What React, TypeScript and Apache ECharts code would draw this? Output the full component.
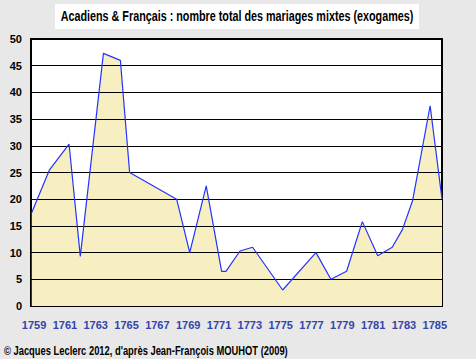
import React, { useEffect, useRef } from "react";
import * as echarts from "echarts";

const titleText = "Acadiens & Français : nombre total des mariages mixtes (exogames)";
const footerText = "© Jacques Leclerc 2012, d'après Jean-François MOUHOT (2009)";

const years = [
  1758.85, 1760.0, 1761.27, 1762.0, 1763.5, 1764.6, 1765.2, 1768.25, 1769.1, 1770.17,
  1771.17, 1771.45, 1772.36, 1773.18, 1775.13, 1777.29, 1778.26, 1779.28, 1780.3,
  1781.3, 1782.24, 1782.9, 1783.56, 1784.7, 1785.47,
];
const values = [
  17.5, 25.5, 30.3, 9.3, 47.3, 46, 25, 20, 10, 22.5,
  6.5, 6.5, 10.3, 11, 3, 10, 5, 6.5, 15.8,
  9.4, 11, 14.3, 19.7, 37.5, 20,
];
const xTickLabels = [1759, 1761, 1763, 1765, 1767, 1769, 1771, 1773, 1775, 1777, 1779, 1781, 1783, 1785];

const FONT = "'Liberation Sans', Arial, sans-serif";

function measure(text: string, font: string): number {
  const c = document.createElement("canvas").getContext("2d");
  if (!c) return 1;
  c.font = font;
  return c.measureText(text).width || 1;
}

export default function App() {
  const ref = useRef<HTMLDivElement>(null);
  useEffect(() => {
    if (!ref.current) return;
    const chart = echarts.init(ref.current, undefined, { renderer: "svg" });
    const titleFont = `bold 14px ${FONT}`;
    const footFont = `bold 12px ${FONT}`;
    const titleScale = 353 / measure(titleText, titleFont);
    const footScale = 284 / measure(footerText, footFont);
    const pairs = years.map((y, i) => [y, values[i]]);
    chart.setOption({
      animation: false,
      backgroundColor: "#e8e8e8",
      grid: {
        left: 31,
        top: 39,
        width: 411,
        height: 267,
        show: true,
        backgroundColor: "#ffffff",
        borderColor: "#000000",
        borderWidth: 2,
      },
      xAxis: {
        type: "value",
        min: 1758.8,
        max: 1785.47,
        axisLine: { show: false },
        axisTick: { show: false },
        splitLine: { show: false },
        axisLabel: {
          customValues: xTickLabels,
          color: "#3344aa",
          fontFamily: FONT,
          fontWeight: "bold",
          fontSize: 11,
          margin: 13,
          formatter: (v: number) => String(Math.round(v)),
        },
      },
      yAxis: {
        type: "value",
        min: 0,
        max: 50,
        interval: 5,
        z: 2,
        axisLine: { show: false },
        axisTick: { show: false },
        splitLine: { show: true, lineStyle: { color: "#000000", width: 1 } },
        axisLabel: {
          color: "#000000",
          fontFamily: FONT,
          fontWeight: "bold",
          fontSize: 11,
          margin: 9,
        },
      },
      graphic: [
        { type: "rect", shape: { x: 55, y: 4, width: 364, height: 25 }, style: { fill: "#ffffff" } },
        {
          type: "text",
          x: 237,
          y: 17,
          scaleX: titleScale,
          style: {
            text: titleText,
            fill: "#000000",
            font: titleFont,
            align: "center",
            verticalAlign: "middle",
          },
        },
        {
          type: "text",
          x: 4,
          y: 351,
          scaleX: footScale,
          style: {
            text: footerText,
            fill: "#000000",
            font: footFont,
            align: "left",
            verticalAlign: "middle",
          },
        },
      ],
      series: [
        {
          type: "line",
          data: pairs,
          symbol: "none",
          lineStyle: { width: 0, opacity: 0 },
          areaStyle: { color: "#f7efc2", opacity: 1 },
          z: 1,
          silent: true,
        },
        {
          type: "line",
          data: pairs,
          symbol: "none",
          lineStyle: { color: "#2233ff", width: 1.2 },
          z: 3,
        },
      ],
    });
    return () => chart.dispose();
  }, []);
  return <div ref={ref} style={{ width: 476, height: 359, position: "absolute", left: 0, top: 0 }} />;
}
